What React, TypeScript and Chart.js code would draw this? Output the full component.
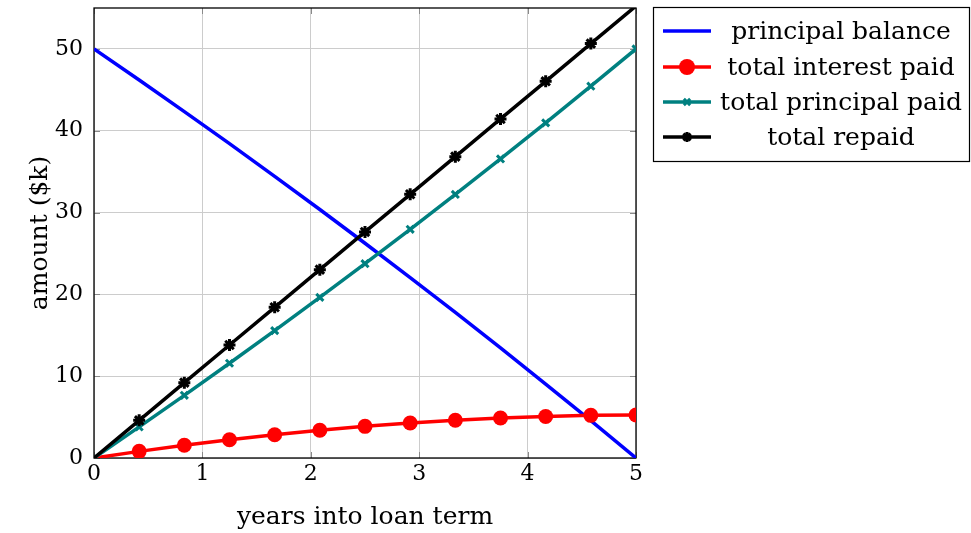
import React, { useEffect, useRef } from "react";
import { Chart, registerables } from "chart.js";

Chart.register(...registerables);

// ---- data (amounts in $k) ----
const years = [0, 0.4167, 0.8333, 1.25, 1.6667, 2.0833, 2.5, 2.9167, 3.3333, 3.75, 4.1667, 4.5833, 5];
const principalBalance = [50, 46.2, 42.34, 38.42, 34.43, 30.37, 26.25, 22.05, 17.79, 13.45, 9.04, 4.56, 0];
const totalInterestPaid = [0, 0.81, 1.55, 2.23, 2.85, 3.39, 3.87, 4.28, 4.62, 4.89, 5.08, 5.21, 5.25];
const totalPrincipalPaid = [0, 3.8, 7.66, 11.58, 15.57, 19.63, 23.75, 27.95, 32.21, 36.55, 40.96, 45.44, 50];
const totalRepaid = [0, 4.6, 9.21, 13.81, 18.42, 23.02, 27.63, 32.23, 36.83, 41.44, 46.04, 50.65, 55.25];

const seriesNames = ["principal balance", "total interest paid", "total principal paid", "total repaid"];
const xTitle = "years into loan term";
const yTitle = "amount ($k)";
const xMin = 0, xMax = 5, yMin = 0, yMax = 55;

const FONT = "'DejaVu Serif', serif";

const toPts = (ys: number[]) => ys.map((y, i) => ({ x: years[i], y }));

function drawMarker(ctx: CanvasRenderingContext2D, style: string, x: number, y: number, r: number, color: string, bw: number) {
  ctx.save();
  ctx.fillStyle = color;
  ctx.strokeStyle = color;
  ctx.lineWidth = bw;
  ctx.lineCap = "butt";
  ctx.beginPath();
  if (style === "circle") {
    ctx.arc(x, y, r, 0, Math.PI * 2);
    ctx.fill();
  } else {
    const d = r * Math.SQRT1_2;
    ctx.moveTo(x - d, y - d); ctx.lineTo(x + d, y + d);
    ctx.moveTo(x - d, y + d); ctx.lineTo(x + d, y - d);
    if (style === "star") {
      ctx.moveTo(x - r, y); ctx.lineTo(x + r, y);
      ctx.moveTo(x, y - r); ctx.lineTo(x, y + r);
    }
    ctx.stroke();
  }
  ctx.restore();
}

const overlayPlugin = {
  id: "overlay",
  beforeDatasetsDraw(chart: any) {
    const { ctx, chartArea: a, scales } = chart;
    ctx.save();
    ctx.strokeStyle = "#8a8a8a";
    ctx.lineWidth = 1;
    const tl = 6;
    scales.x.ticks.forEach((t: any) => {
      const px = Math.round(scales.x.getPixelForValue(t.value)) + 0.5;
      ctx.beginPath();
      ctx.moveTo(px, a.bottom); ctx.lineTo(px, a.bottom - tl);
      ctx.moveTo(px, a.top); ctx.lineTo(px, a.top + tl);
      ctx.stroke();
    });
    scales.y.ticks.forEach((t: any) => {
      const py = Math.round(scales.y.getPixelForValue(t.value)) + 0.5;
      ctx.beginPath();
      ctx.moveTo(a.left, py); ctx.lineTo(a.left + tl, py);
      ctx.moveTo(a.right, py); ctx.lineTo(a.right - tl, py);
      ctx.stroke();
    });
    ctx.strokeStyle = "#000";
    ctx.lineWidth = 1.3;
    ctx.strokeRect(a.left, a.top, a.right - a.left, a.bottom - a.top);
    ctx.restore();
  },
  afterDraw(chart: any) {
    const { ctx, chartArea: a } = chart;
    ctx.save();
    ctx.fillStyle = "#000";
    ctx.font = `25px ${FONT}`;
    ctx.textAlign = "center";
    ctx.textBaseline = "middle";
    // x title
    ctx.fillText(xTitle, (a.left + a.right) / 2, 517);
    // y title
    ctx.save();
    ctx.translate(40, (a.top + a.bottom) / 2);
    ctx.rotate(-Math.PI / 2);
    ctx.fillText(yTitle, 0, 0);
    ctx.restore();

    // legend
    const bx = 653.5, by = 7.5, bw = 316, bh = 154;
    ctx.fillStyle = "#fff";
    ctx.fillRect(bx, by, bw, bh);
    ctx.strokeStyle = "#000";
    ctx.lineWidth = 1.2;
    ctx.strokeRect(bx, by, bw, bh);
    const rowY = [31, 67, 102, 137];
    chart.data.datasets.forEach((ds: any, i: number) => {
      const y = rowY[i];
      ctx.strokeStyle = ds.borderColor;
      ctx.lineWidth = ds.borderWidth;
      ctx.beginPath();
      ctx.moveTo(663, y); ctx.lineTo(711, y);
      ctx.stroke();
      if (ds.legendMarker) {
        const m = ds.legendMarker;
        drawMarker(ctx, m.style, 687, y, m.r, ds.borderColor, m.bw);
      }
      ctx.fillStyle = "#000";
      ctx.font = `25px ${FONT}`;
      ctx.textAlign = "center";
      ctx.textBaseline = "middle";
      ctx.fillText(ds.label, 841, y + 1);
    });
    ctx.restore();
  },
};

export default function App() {
  const ref = useRef<HTMLCanvasElement | null>(null);

  useEffect(() => {
    if (!ref.current) return;
    const hideFirstAndOut = (ctx: any, r: number) => {
      const i = ctx.dataIndex;
      const raw = ctx.raw;
      if (i === 0) return 0;
      if (raw && raw.y > yMax) return 0;
      return r;
    };
    const chart = new Chart(ref.current, {
      type: "line",
      data: {
        datasets: [
          {
            label: seriesNames[0],
            data: toPts(principalBalance),
            borderColor: "#0000ff",
            backgroundColor: "#0000ff",
            borderWidth: 3.5,
            pointRadius: 0,
            order: 4,
          },
          {
            label: seriesNames[1],
            data: toPts(totalInterestPaid),
            borderColor: "#ff0000",
            backgroundColor: "#ff0000",
            borderWidth: 3.5,
            pointStyle: "circle",
            pointRadius: (c: any) => hideFirstAndOut(c, 7.5),
            pointBorderWidth: 0,
            order: 3,
            legendMarker: { style: "circle", r: 8, bw: 0 },
          } as any,
          {
            label: seriesNames[2],
            data: toPts(totalPrincipalPaid),
            borderColor: "#008080",
            backgroundColor: "#008080",
            borderWidth: 3.5,
            pointStyle: "crossRot",
            pointRadius: (c: any) => hideFirstAndOut(c, 5),
            pointBorderWidth: 3,
            order: 2,
            legendMarker: { style: "crossRot", r: 4.5, bw: 3 },
          } as any,
          {
            label: seriesNames[3],
            data: toPts(totalRepaid),
            borderColor: "#000000",
            backgroundColor: "#000000",
            borderWidth: 3.5,
            pointStyle: "star",
            pointRadius: (c: any) => hideFirstAndOut(c, 6),
            pointBorderWidth: 3,
            order: 1,
            legendMarker: { style: "star", r: 5, bw: 3 },
          } as any,
        ],
      },
      options: {
        animation: false,
        responsive: false,
        maintainAspectRatio: false,
        events: [],
        layout: { padding: { top: 8, right: 335, left: 0, bottom: 0 } },
        plugins: { legend: { display: false }, tooltip: { enabled: false } },
        scales: {
          x: {
            type: "linear",
            min: xMin,
            max: xMax,
            grid: { color: "#cccccc", lineWidth: 1, drawTicks: false },
            border: { display: false },
            ticks: {
              stepSize: 1,
              padding: 3,
              color: "#000",
              font: { family: FONT, size: 22 },
              maxRotation: 0,
            },
            afterFit: (s: any) => {
              s.height = 75;
              s.paddingLeft = 0;
              s.paddingRight = 0;
            },
          },
          y: {
            type: "linear",
            min: yMin,
            max: yMax,
            grid: { color: "#cccccc", lineWidth: 1, drawTicks: false },
            border: { display: false },
            ticks: {
              stepSize: 10,
              padding: 11,
              color: "#000",
              font: { family: FONT, size: 22 },
            },
            afterBuildTicks: (s: any) => {
              s.ticks = s.ticks.filter((t: any) => t.value % 10 === 0);
            },
            afterFit: (s: any) => {
              s.width = 94;
              s.paddingTop = 0;
              s.paddingBottom = 0;
            },
          },
        },
      } as any,
      plugins: [overlayPlugin],
    });
    return () => chart.destroy();
  }, []);

  return (
    <div style={{ position: "fixed", left: 0, top: 0, width: 971, height: 533, background: "#fff" }}>
      <canvas ref={ref} width={971} height={533} style={{ width: 971, height: 533, display: "block" }} />
    </div>
  );
}
